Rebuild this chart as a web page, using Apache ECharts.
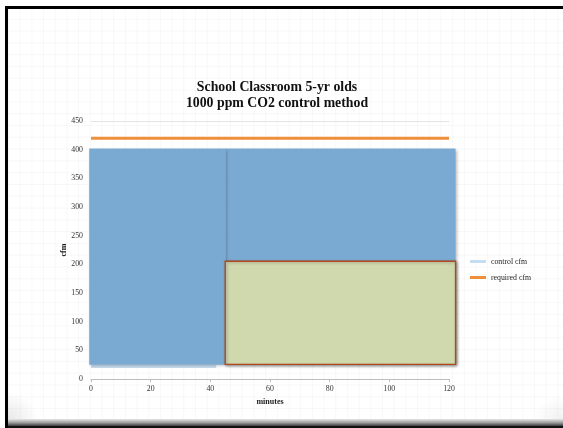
<!DOCTYPE html>
<html>
<head>
<meta charset="utf-8">
<script src="https://cdn.jsdelivr.net/npm/echarts@6/dist/echarts.min.js"></script>
<style>
  html, body { margin: 0; padding: 0; background: #fff; }
  #page { position: absolute; left: 0; top: 0; width: 563px; height: 428px; overflow: hidden; background: #fff; }
  #frame { position: absolute; left: 5px; top: 6px; width: 600px; height: 440px; border-top: 3px solid #000; border-left: 3px solid #000; background: #111; }
  #paper {
    position: absolute; left: 8px; top: 9px; width: 555px; height: 410px;
    background-color: #fff;
    background-image:
      linear-gradient(to right, rgba(0,0,0,0.028) 1px, transparent 1px),
      linear-gradient(to bottom, rgba(0,0,0,0.028) 1px, transparent 1px);
    background-size: 11.7px 11.8px;
    background-position: 0 -2px;
  }
  #curlL { position: absolute; left: 8px; top: 392px; width: 30px; height: 27px;
    background: radial-gradient(ellipse at 0% 100%, rgba(0,0,0,0.09), rgba(0,0,0,0) 70%); }
  #curlR { position: absolute; right: 0; top: 395px; width: 30px; height: 24px;
    background: radial-gradient(ellipse at 100% 100%, rgba(0,0,0,0.06), rgba(0,0,0,0) 70%); }
  #edge { position: absolute; left: 8px; top: 419px; width: 555px; height: 7px;
    background: linear-gradient(#e6e6e6, #9a9a9a 55%, #3a3a3a); }
  #chart { position: absolute; left: 0; top: 0; width: 563px; height: 428px; }
</style>
</head>
<body>
<div id="page">
  <div id="frame"></div>
  <div id="paper"></div>
  <div id="curlL"></div>
  <div id="curlR"></div>
  <div id="edge"></div>
  <div id="chart"></div>
</div>
<script>
// Axis ticks
const xTicks = [0, 20, 40, 60, 80, 100, 120];
const yTicks = [0, 50, 100, 150, 200, 250, 300, 350, 400, 450];

// Ventilation series (minutes, cfm)
const controlMinutes = [0, 42];
const controlCfm = [22, 22];
const requiredMinutes = [0, 120];
const requiredCfm = [420, 420];

// Operating zones (minutes from/to, cfm low/high)
const zoneFrom = [45, -0.6, 45];
const zoneTo = [122.2, 45.2, 122.2];
const zoneLow = [25, 25, 25.5];
const zoneHigh = [402, 402, 205.5];

const zoneLook = [
  { fill: '#7aa9d1', stroke: null, lineWidth: 0 },
  { fill: '#7aa9d1', stroke: null, lineWidth: 0 },
  { fill: '#d0d8ae', stroke: '#b04a1e', lineWidth: 1.4 }
];

const pairs = (xs, ys) => xs.map((x, i) => [x, ys[i]]);
const zones = zoneFrom.map((x0, i) => [x0, zoneTo[i], zoneLow[i], zoneHigh[i]]);

const serif = '"Liberation Serif", "DejaVu Serif", serif';
const chart = echarts.init(document.getElementById('chart'), null, { renderer: 'canvas' });

chart.setOption({
  backgroundColor: 'transparent',
  animation: false,
  title: {
    text: 'School Classroom 5-yr olds\n1000 ppm CO2 control method',
    left: 272,
    top: 74,
    textAlign: 'center',
    textStyle: { fontFamily: serif, fontWeight: 'bold', fontSize: 13.8, lineHeight: 16.5, color: '#111' }
  },
  legend: {
    orient: 'vertical',
    left: 465,
    top: 252,
    itemWidth: 16,
    itemHeight: 3,
    itemGap: 7,
    icon: 'rect',
    data: ['control cfm', 'required cfm'],
    textStyle: { fontFamily: serif, fontSize: 7.8, lineHeight: 9, color: '#222' }
  },
  grid: { left: 91, right: 114, top: 121, bottom: 49, containLabel: false },
  xAxis: {
    type: 'value',
    min: xTicks[0],
    max: xTicks[xTicks.length - 1],
    interval: 20,
    name: 'minutes',
    nameLocation: 'middle',
    nameGap: 19,
    nameMoveOverlap: false,
    nameTextStyle: { fontFamily: serif, fontWeight: 'bold', fontSize: 8, color: '#222' },
    axisLine: { lineStyle: { color: '#bdbdbd', width: 1 } },
    axisTick: { show: true, length: 3, lineStyle: { color: '#bdbdbd' } },
    axisLabel: { fontFamily: serif, fontSize: 7.8, color: '#333', margin: 6 },
    splitLine: { show: false }
  },
  yAxis: {
    type: 'value',
    min: yTicks[0],
    max: yTicks[yTicks.length - 1],
    interval: 50,
    name: 'cfm',
    nameLocation: 'middle',
    nameGap: 23,
    nameMoveOverlap: false,
    nameTextStyle: { fontFamily: serif, fontWeight: 'bold', fontSize: 8, color: '#222' },
    axisLine: { show: false },
    axisTick: { show: false },
    axisLabel: { fontFamily: serif, fontSize: 7.8, color: '#333', margin: 8 },
    splitLine: { show: true, lineStyle: { color: '#e3e3e3', width: 1 } }
  },
  series: [
    {
      name: 'control cfm',
      type: 'line',
      data: pairs(controlMinutes, controlCfm),
      symbol: 'none',
      z: 1,
      lineStyle: { color: '#c6dcef', width: 3 },
      itemStyle: { color: '#c6dcef' }
    },
    {
      name: 'zones',
      type: 'custom',
      data: zones,
      z: 2,
      clip: false,
      encode: { x: [0, 1], y: [2, 3] },
      renderItem: function (params, api) {
        const topLeft = api.coord([api.value(0), api.value(3)]);
        const botRight = api.coord([api.value(1), api.value(2)]);
        const look = zoneLook[params.dataIndex];
        return {
          type: 'rect',
          shape: {
            x: topLeft[0],
            y: topLeft[1],
            width: botRight[0] - topLeft[0],
            height: botRight[1] - topLeft[1]
          },
          style: {
            fill: look.fill,
            stroke: look.stroke,
            lineWidth: look.lineWidth,
            shadowBlur: 3,
            shadowOffsetX: 1.2,
            shadowOffsetY: 1.2,
            shadowColor: 'rgba(0,0,0,0.28)'
          }
        };
      }
    },
    {
      name: 'required cfm',
      type: 'line',
      data: pairs(requiredMinutes, requiredCfm),
      symbol: 'none',
      z: 3,
      lineStyle: { color: '#ee8f3c', width: 3 },
      itemStyle: { color: '#ee8f3c' }
    }
  ]
});
</script>
</body>
</html>
